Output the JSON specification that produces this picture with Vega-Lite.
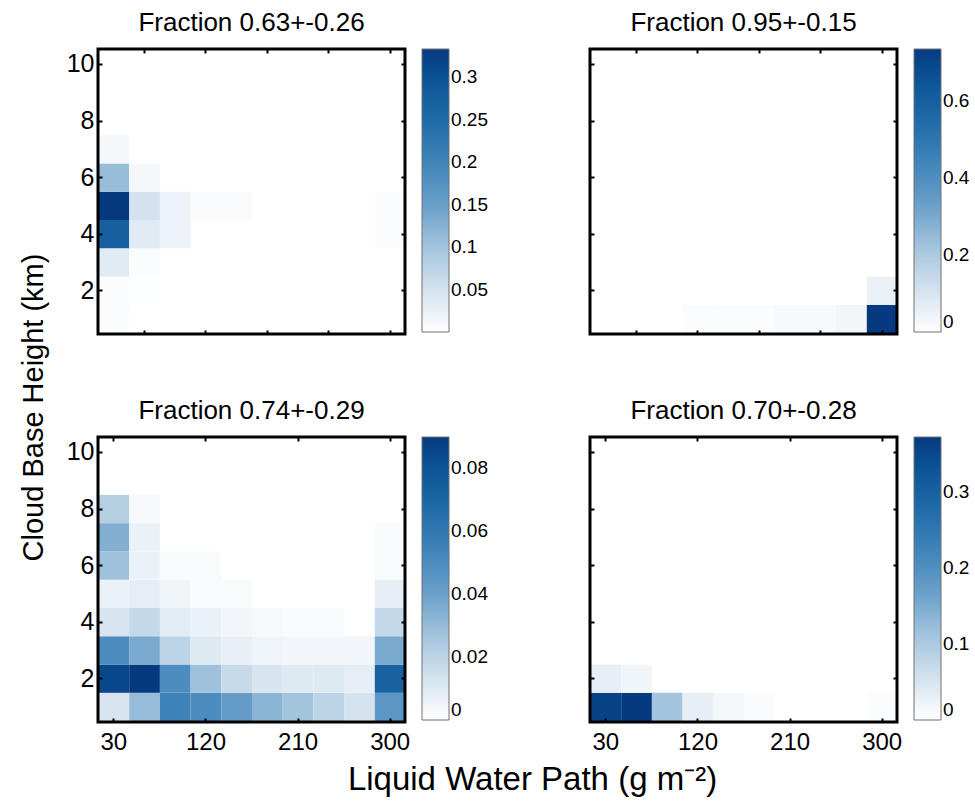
{
  "$schema": "https://vega.github.io/schema/vega-lite/v6.json",
  "background": "white",
  "padding": {"left": 19, "top": 9, "right": 5, "bottom": 5},
  "bounds": "flush",
  "columns": 2,
  "spacing": {"row": 103, "column": 185},
  "config": {
    "font": "Liberation Sans",
    "view": {"stroke": null},
    "axis": {"domain": false, "grid": false, "labelFont": "Liberation Sans", "labelColor": "black", "tickColor": "black", "tickWidth": 2, "tickSize": -4, "titleFont": "Liberation Sans", "titleColor": "black", "titleFontWeight": "normal"},
    "legend": {"gradientLength": 283, "gradientThickness": 27, "labelFont": "Liberation Sans", "labelFontSize": 19, "labelColor": "black", "gradientStrokeColor": "#707070", "gradientStrokeWidth": 1, "offset": 16, "labelOffset": 6, "labelOverlap": false, "padding": 0},
    "title": {"font": "Liberation Sans", "fontSize": 26, "fontWeight": "normal", "color": "black", "offset": 12}
  },
  "resolve": {"scale": {"color": "independent"}, "legend": {"color": "independent"}},
  "datasets": {
    "p1": [
      {"lwp": 30, "cbh": 1, "f": 0.006}, {"lwp": 30, "cbh": 2, "f": 0.006}, {"lwp": 60, "cbh": 2, "f": 0.004},
      {"lwp": 30, "cbh": 3, "f": 0.035}, {"lwp": 60, "cbh": 3, "f": 0.005},
      {"lwp": 30, "cbh": 4, "f": 0.27}, {"lwp": 60, "cbh": 4, "f": 0.035}, {"lwp": 90, "cbh": 4, "f": 0.02}, {"lwp": 300, "cbh": 4, "f": 0.006},
      {"lwp": 30, "cbh": 5, "f": 0.333}, {"lwp": 60, "cbh": 5, "f": 0.05}, {"lwp": 90, "cbh": 5, "f": 0.02}, {"lwp": 120, "cbh": 5, "f": 0.008}, {"lwp": 150, "cbh": 5, "f": 0.008}, {"lwp": 300, "cbh": 5, "f": 0.006},
      {"lwp": 30, "cbh": 6, "f": 0.11}, {"lwp": 60, "cbh": 6, "f": 0.012},
      {"lwp": 30, "cbh": 7, "f": 0.012}
    ],
    "p2": [
      {"lwp": 120, "cbh": 1, "f": 0.01}, {"lwp": 150, "cbh": 1, "f": 0.01}, {"lwp": 180, "cbh": 1, "f": 0.01},
      {"lwp": 210, "cbh": 1, "f": 0.02}, {"lwp": 240, "cbh": 1, "f": 0.02}, {"lwp": 270, "cbh": 1, "f": 0.035},
      {"lwp": 300, "cbh": 1, "f": 0.736}, {"lwp": 300, "cbh": 2, "f": 0.055}
    ],
    "p3": [
      {"lwp": 30, "cbh": 1, "f": 0.012}, {"lwp": 60, "cbh": 1, "f": 0.03}, {"lwp": 90, "cbh": 1, "f": 0.055}, {"lwp": 120, "cbh": 1, "f": 0.05}, {"lwp": 150, "cbh": 1, "f": 0.042}, {"lwp": 180, "cbh": 1, "f": 0.033}, {"lwp": 210, "cbh": 1, "f": 0.027}, {"lwp": 240, "cbh": 1, "f": 0.02}, {"lwp": 270, "cbh": 1, "f": 0.013}, {"lwp": 300, "cbh": 1, "f": 0.045},
      {"lwp": 30, "cbh": 2, "f": 0.085}, {"lwp": 60, "cbh": 2, "f": 0.09}, {"lwp": 90, "cbh": 2, "f": 0.05}, {"lwp": 120, "cbh": 2, "f": 0.028}, {"lwp": 150, "cbh": 2, "f": 0.017}, {"lwp": 180, "cbh": 2, "f": 0.012}, {"lwp": 210, "cbh": 2, "f": 0.01}, {"lwp": 240, "cbh": 2, "f": 0.01}, {"lwp": 270, "cbh": 2, "f": 0.008}, {"lwp": 300, "cbh": 2, "f": 0.072},
      {"lwp": 30, "cbh": 3, "f": 0.05}, {"lwp": 60, "cbh": 3, "f": 0.037}, {"lwp": 90, "cbh": 3, "f": 0.02}, {"lwp": 120, "cbh": 3, "f": 0.01}, {"lwp": 150, "cbh": 3, "f": 0.007}, {"lwp": 180, "cbh": 3, "f": 0.005}, {"lwp": 210, "cbh": 3, "f": 0.004}, {"lwp": 240, "cbh": 3, "f": 0.004}, {"lwp": 270, "cbh": 3, "f": 0.004}, {"lwp": 300, "cbh": 3, "f": 0.037},
      {"lwp": 30, "cbh": 4, "f": 0.012}, {"lwp": 60, "cbh": 4, "f": 0.018}, {"lwp": 90, "cbh": 4, "f": 0.009}, {"lwp": 120, "cbh": 4, "f": 0.006}, {"lwp": 150, "cbh": 4, "f": 0.004}, {"lwp": 180, "cbh": 4, "f": 0.003}, {"lwp": 210, "cbh": 4, "f": 0.002}, {"lwp": 240, "cbh": 4, "f": 0.002}, {"lwp": 300, "cbh": 4, "f": 0.018},
      {"lwp": 30, "cbh": 5, "f": 0.006}, {"lwp": 60, "cbh": 5, "f": 0.008}, {"lwp": 90, "cbh": 5, "f": 0.005}, {"lwp": 120, "cbh": 5, "f": 0.002}, {"lwp": 150, "cbh": 5, "f": 0.002}, {"lwp": 300, "cbh": 5, "f": 0.008},
      {"lwp": 30, "cbh": 6, "f": 0.028}, {"lwp": 60, "cbh": 6, "f": 0.006}, {"lwp": 90, "cbh": 6, "f": 0.002}, {"lwp": 120, "cbh": 6, "f": 0.002}, {"lwp": 300, "cbh": 6, "f": 0.002},
      {"lwp": 30, "cbh": 7, "f": 0.035}, {"lwp": 60, "cbh": 7, "f": 0.006}, {"lwp": 300, "cbh": 7, "f": 0.002},
      {"lwp": 30, "cbh": 8, "f": 0.022}, {"lwp": 60, "cbh": 8, "f": 0.003}
    ],
    "p4": [
      {"lwp": 30, "cbh": 1, "f": 0.36}, {"lwp": 60, "cbh": 1, "f": 0.373}, {"lwp": 90, "cbh": 1, "f": 0.11}, {"lwp": 120, "cbh": 1, "f": 0.03}, {"lwp": 150, "cbh": 1, "f": 0.015}, {"lwp": 180, "cbh": 1, "f": 0.008}, {"lwp": 300, "cbh": 1, "f": 0.006},
      {"lwp": 30, "cbh": 2, "f": 0.03}, {"lwp": 60, "cbh": 2, "f": 0.02}
    ]
  },
  "concat": [
    {
      "data": {"name": "p1"},
      "width": 307, "height": 285,
      "title": "Fraction 0.63+-0.26",
      "resolve": {"axis": {"x": "independent", "y": "independent"}},
      "layer": [
        {
          "mark": {"type": "rect"},
          "encoding": {
            "x": {"field": "lwp", "type": "quantitative", "bin": {"extent": [15, 315], "step": 30, "nice": false}, "scale": {"domain": [15, 315], "nice": false, "zero": false}, "axis": {"values": [60, 120, 180, 240, 300], "labels": false, "title": null}},
            "y": {"field": "cbh", "type": "quantitative", "bin": {"extent": [0.5, 10.5], "step": 1, "nice": false}, "scale": {"domain": [0.45, 10.53], "nice": false, "zero": false}, "axis": {"values": [2, 4, 6, 8, 10], "labelFontSize": 25, "labelPadding": 8, "title": "Cloud Base Height (km)", "titleFontSize": 29, "titleX": -56, "titleY": 358, "titleAlign": "center", "titleBaseline": "alphabetic", "titleAngle": 270}},
            "color": {"field": "f", "type": "quantitative", "scale": {"interpolate": "rgb", "domain": [0, 0.05, 0.1, 0.15, 0.2, 0.25, 0.3, 0.333], "range": ["#ffffff", "#d3e2ee", "#a3c4dd", "#6a9fc9", "#3f84b9", "#1e6aa8", "#0b5295", "#063a80"]}, "legend": {"title": null, "values": [0.05, 0.1, 0.15, 0.2, 0.25, 0.3], "format": ".2~f"}}
          }
        },
        {
          "mark": {"type": "rect", "opacity": 0},
          "encoding": {
            "x": {"field": "lwp", "type": "quantitative", "bin": {"extent": [15, 315], "step": 30, "nice": false}, "axis": {"orient": "top", "values": [60, 120, 180, 240, 300], "labels": false, "title": null}},
            "y": {"field": "cbh", "type": "quantitative", "bin": {"extent": [0.5, 10.5], "step": 1, "nice": false}, "axis": {"orient": "right", "values": [2, 4, 6, 8, 10], "labels": false, "title": null}}
          }
        },
        {
          "data": {"values": [{}]},
          "mark": {"type": "rect", "fill": "transparent", "stroke": "black", "strokeWidth": 3},
          "encoding": {"x": {"datum": 15, "axis": null}, "x2": {"datum": 315}, "y": {"datum": 0.45, "axis": null}, "y2": {"datum": 10.53}}
        }
      ]
    },
    {
      "data": {"name": "p2"},
      "width": 307, "height": 285,
      "title": "Fraction 0.95+-0.15",
      "resolve": {"axis": {"x": "independent", "y": "independent"}},
      "layer": [
        {
          "mark": {"type": "rect"},
          "encoding": {
            "x": {"field": "lwp", "type": "quantitative", "bin": {"extent": [15, 315], "step": 30, "nice": false}, "scale": {"domain": [15, 315], "nice": false, "zero": false}, "axis": {"values": [60, 120, 180, 240, 300], "labels": false, "title": null}},
            "y": {"field": "cbh", "type": "quantitative", "bin": {"extent": [0.5, 10.5], "step": 1, "nice": false}, "scale": {"domain": [0.45, 10.53], "nice": false, "zero": false}, "axis": {"values": [2, 4, 6, 8, 10], "labels": false, "title": null}},
            "color": {"field": "f", "type": "quantitative", "scale": {"interpolate": "rgb", "domain": [0, 0.11, 0.221, 0.331, 0.442, 0.552, 0.662, 0.736], "range": ["#ffffff", "#d3e2ee", "#a3c4dd", "#6a9fc9", "#3f84b9", "#1e6aa8", "#0b5295", "#063a80"]}, "legend": {"title": null, "values": [0, 0.2, 0.4, 0.6], "format": ".2~f"}}
          }
        },
        {
          "mark": {"type": "rect", "opacity": 0},
          "encoding": {
            "x": {"field": "lwp", "type": "quantitative", "bin": {"extent": [15, 315], "step": 30, "nice": false}, "axis": {"orient": "top", "values": [60, 120, 180, 240, 300], "labels": false, "title": null}},
            "y": {"field": "cbh", "type": "quantitative", "bin": {"extent": [0.5, 10.5], "step": 1, "nice": false}, "axis": {"orient": "right", "values": [2, 4, 6, 8, 10], "labels": false, "title": null}}
          }
        },
        {
          "data": {"values": [{}]},
          "mark": {"type": "rect", "fill": "transparent", "stroke": "black", "strokeWidth": 3},
          "encoding": {"x": {"datum": 15, "axis": null}, "x2": {"datum": 315}, "y": {"datum": 0.45, "axis": null}, "y2": {"datum": 10.53}}
        }
      ]
    },
    {
      "data": {"name": "p3"},
      "width": 307, "height": 285,
      "title": "Fraction 0.74+-0.29",
      "resolve": {"axis": {"x": "independent", "y": "independent"}},
      "layer": [
        {
          "mark": {"type": "rect"},
          "encoding": {
            "x": {"field": "lwp", "type": "quantitative", "bin": {"extent": [15, 315], "step": 30, "nice": false}, "scale": {"domain": [15, 315], "nice": false, "zero": false}, "axis": {"values": [30, 120, 210, 300], "labelFontSize": 24, "labelPadding": 12, "title": "Liquid Water Path (g m⁻²)", "titleFontSize": 33, "titleX": 434, "titleY": 67, "titleAlign": "center", "titleBaseline": "alphabetic"}},
            "y": {"field": "cbh", "type": "quantitative", "bin": {"extent": [0.5, 10.5], "step": 1, "nice": false}, "scale": {"domain": [0.45, 10.53], "nice": false, "zero": false}, "axis": {"values": [2, 4, 6, 8, 10], "labelFontSize": 25, "labelPadding": 8, "title": null}},
            "color": {"field": "f", "type": "quantitative", "scale": {"interpolate": "rgb", "domain": [0, 0.0135, 0.027, 0.0405, 0.054, 0.0675, 0.081, 0.09], "range": ["#ffffff", "#d3e2ee", "#a3c4dd", "#6a9fc9", "#3f84b9", "#1e6aa8", "#0b5295", "#063a80"]}, "legend": {"title": null, "values": [0, 0.02, 0.04, 0.06, 0.08], "format": ".2~f"}}
          }
        },
        {
          "mark": {"type": "rect", "opacity": 0},
          "encoding": {
            "x": {"field": "lwp", "type": "quantitative", "bin": {"extent": [15, 315], "step": 30, "nice": false}, "axis": {"orient": "top", "values": [30, 120, 210, 300], "labels": false, "title": null}},
            "y": {"field": "cbh", "type": "quantitative", "bin": {"extent": [0.5, 10.5], "step": 1, "nice": false}, "axis": {"orient": "right", "values": [2, 4, 6, 8, 10], "labels": false, "title": null}}
          }
        },
        {
          "data": {"values": [{}]},
          "mark": {"type": "rect", "fill": "transparent", "stroke": "black", "strokeWidth": 3},
          "encoding": {"x": {"datum": 15, "axis": null}, "x2": {"datum": 315}, "y": {"datum": 0.45, "axis": null}, "y2": {"datum": 10.53}}
        }
      ]
    },
    {
      "data": {"name": "p4"},
      "width": 307, "height": 285,
      "title": "Fraction 0.70+-0.28",
      "resolve": {"axis": {"x": "independent", "y": "independent"}},
      "layer": [
        {
          "mark": {"type": "rect"},
          "encoding": {
            "x": {"field": "lwp", "type": "quantitative", "bin": {"extent": [15, 315], "step": 30, "nice": false}, "scale": {"domain": [15, 315], "nice": false, "zero": false}, "axis": {"values": [30, 120, 210, 300], "labelFontSize": 24, "labelPadding": 12, "title": null}},
            "y": {"field": "cbh", "type": "quantitative", "bin": {"extent": [0.5, 10.5], "step": 1, "nice": false}, "scale": {"domain": [0.45, 10.53], "nice": false, "zero": false}, "axis": {"values": [2, 4, 6, 8, 10], "labels": false, "title": null}},
            "color": {"field": "f", "type": "quantitative", "scale": {"interpolate": "rgb", "domain": [0, 0.056, 0.112, 0.168, 0.224, 0.28, 0.336, 0.373], "range": ["#ffffff", "#d3e2ee", "#a3c4dd", "#6a9fc9", "#3f84b9", "#1e6aa8", "#0b5295", "#063a80"]}, "legend": {"title": null, "values": [0, 0.1, 0.2, 0.3], "format": ".2~f"}}
          }
        },
        {
          "mark": {"type": "rect", "opacity": 0},
          "encoding": {
            "x": {"field": "lwp", "type": "quantitative", "bin": {"extent": [15, 315], "step": 30, "nice": false}, "axis": {"orient": "top", "values": [30, 120, 210, 300], "labels": false, "title": null}},
            "y": {"field": "cbh", "type": "quantitative", "bin": {"extent": [0.5, 10.5], "step": 1, "nice": false}, "axis": {"orient": "right", "values": [2, 4, 6, 8, 10], "labels": false, "title": null}}
          }
        },
        {
          "data": {"values": [{}]},
          "mark": {"type": "rect", "fill": "transparent", "stroke": "black", "strokeWidth": 3},
          "encoding": {"x": {"datum": 15, "axis": null}, "x2": {"datum": 315}, "y": {"datum": 0.45, "axis": null}, "y2": {"datum": 10.53}}
        }
      ]
    }
  ]
}
